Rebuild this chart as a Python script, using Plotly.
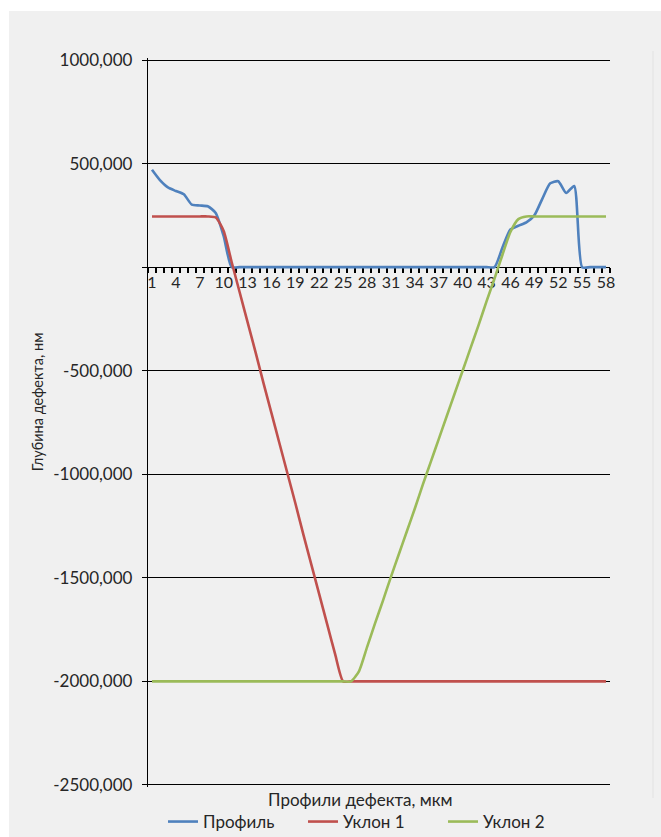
import plotly.graph_objects as go

# Positions along the defect profile (category axis 1..58)
positions = list(range(1, 59))
x_tick_labels = [1, 4, 7, 10, 13, 16, 19, 22, 25, 28, 31, 34, 37, 40, 43, 46, 49, 52, 55, 58]

# Measured profile depth, nm
profile = [470, 420, 385, 368, 352, 302, 298, 294, 262, 150,
           0, 0, 0, 0, 0, 0, 0, 0, 0, 0,
           0, 0, 0, 0, 0, 0, 0, 0, 0, 0,
           0, 0, 0, 0, 0, 0, 0, 0, 0, 0,
           0, 0, 0, 0, 95, 182, 200, 216, 250, 330,
           405, 415, 358, 392, 0, 0, 0, 0]

# First slope, nm
slope_1 = [245, 245, 245, 245, 245, 245, 245, 245, 240, 175,
           25, -120, -265, -410, -560, -705, -850, -995, -1140, -1290,
           -1435, -1580, -1725, -1870, -2000, -2000, -2000, -2000, -2000, -2000,
           -2000, -2000, -2000, -2000, -2000, -2000, -2000, -2000, -2000, -2000,
           -2000, -2000, -2000, -2000, -2000, -2000, -2000, -2000, -2000, -2000,
           -2000, -2000, -2000, -2000, -2000, -2000, -2000, -2000]

# Second slope, nm
slope_2 = [-2000, -2000, -2000, -2000, -2000, -2000, -2000, -2000, -2000, -2000,
           -2000, -2000, -2000, -2000, -2000, -2000, -2000, -2000, -2000, -2000,
           -2000, -2000, -2000, -2000, -2000, -2000, -1950, -1835, -1720, -1610,
           -1495, -1385, -1275, -1165, -1050, -940, -830, -720, -610, -500,
           -390, -280, -165, -55, 60, 170, 232, 245, 245, 245,
           245, 245, 245, 245, 245, 245, 245, 245]

y_tick_values = [1000, 500, 0, -500, -1000, -1500, -2000, -2500]
y_tick_text = ["1000,000", "500,000", "", "-500,000", "-1000,000",
               "-1500,000", "-2000,000", "-2500,000"]

series = [
    ("Профиль", profile, "#4F81BD"),
    ("Уклон 1", slope_1, "#C0504D"),
    ("Уклон 2", slope_2, "#9BBB59"),
]

FONT = "Lato"
TEXT = "#262626"
# ~2 px of headroom so the 1000 and -2500 grid lines are not clipped
y_min, y_max = -2510, 1010

fig = go.Figure()
for name, values, color in series:
    fig.add_trace(go.Scatter(
        x=positions, y=values, name=name, mode="lines",
        line=dict(color=color, width=2.6, shape="spline", smoothing=0.6),
        hoverinfo="skip",
    ))

fig.update_layout(
    width=661, height=837,
    margin=dict(l=148, r=51, t=58, b=50, autoexpand=False),
    paper_bgcolor="white",
    plot_bgcolor="#f0f0f0",
    font=dict(family=FONT, size=16, color=TEXT),
    showlegend=True,
    legend=dict(
        orientation="h",
        xref="container", yref="container",
        x=163 / 661, y=1 - 822 / 837, xanchor="left", yanchor="middle",
        font=dict(size=17, color=TEXT),
        entrywidth=95, entrywidthmode="pixels",
        bgcolor="rgba(0,0,0,0)",
    ),
    xaxis=dict(
        range=[0.5, 58.5],
        anchor="free",
        position=(0 - y_min) / (y_max - y_min),
        tickmode="array", tickvals=x_tick_labels,
        ticktext=[str(v) for v in x_tick_labels],
        ticks="", showgrid=False, zeroline=False,
        showline=True, linecolor="black", linewidth=1.3,
        tickfont=dict(size=16, color=TEXT),
        minor=dict(ticks="outside", ticklen=5, tickwidth=2, tickcolor="black",
                   tick0=0.5, dtick=1, showgrid=False),
        layer="below traces",
    ),
    yaxis=dict(
        range=[y_min, y_max],
        tickmode="array", tickvals=y_tick_values, ticktext=y_tick_text,
        ticks="outside", ticklen=5, tickcolor="black", tickwidth=1.3,
        showgrid=True, gridcolor="black", gridwidth=1.2,
        zeroline=False,
        showline=True, linecolor="black", linewidth=1.3,
        tickfont=dict(size=17, color=TEXT),
        ticklabelstandoff=6,
    ),
    shapes=[
        # grey chart-area panel behind everything
        dict(type="rect", xref="paper", yref="paper",
             x0=-0.3009, x1=1.2, y0=-0.2, y1=1.0645,
             fillcolor="#f0f0f0", line=dict(width=0), layer="below"),
        # faint divider at the right side of the panel
        dict(type="line", xref="paper", yref="paper",
             x0=1.0931, x1=1.0931, y0=-0.0151, y1=1.0096,
             line=dict(color="#e2e2e2", width=1), layer="below"),
    ],
    annotations=[
        dict(text="Глубина дефекта, нм", xref="paper", yref="paper",
             x=-0.240, y=0.528, textangle=-90, showarrow=False,
             xanchor="center", yanchor="middle",
             font=dict(size=14.5, color=TEXT)),
        dict(text="Профили дефекта, мкм", xref="paper", yref="paper",
             x=0.459, y=-0.0178, showarrow=False,
             xanchor="center", yanchor="middle",
             font=dict(size=17, color=TEXT)),
    ],
)

fig.write_html("out.html")
